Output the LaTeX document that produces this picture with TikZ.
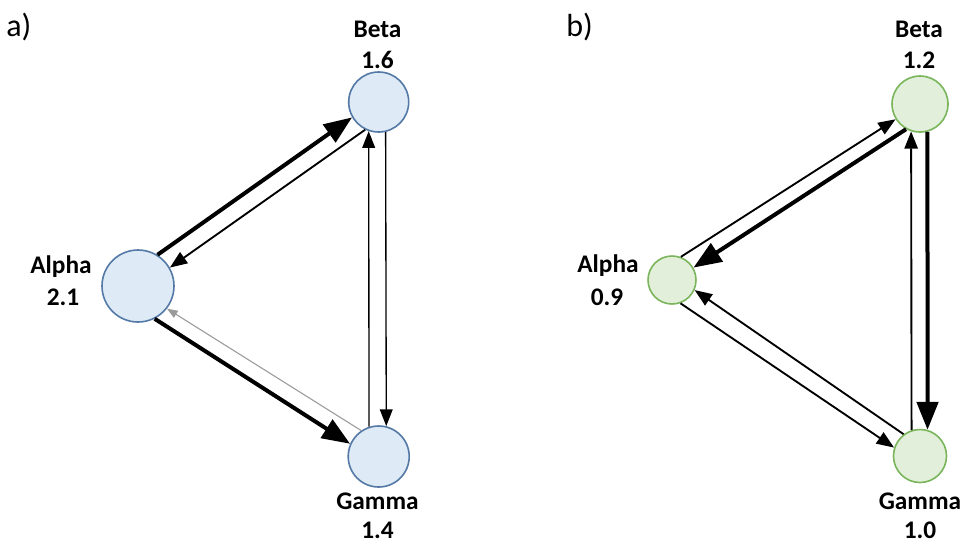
\documentclass[tikz,border=0pt]{standalone}
\usepackage{fontspec}
\setmainfont{Carlito}
\usetikzlibrary{arrows.meta}
\definecolor{bluefill}{HTML}{DEEAF6}
\definecolor{blueedge}{HTML}{5479A6}
\definecolor{greenfill}{HTML}{E2EFDA}
\definecolor{greenedge}{HTML}{7AB55C}
\definecolor{faintgray}{HTML}{9A9A9A}
\begin{document}
\begin{tikzpicture}[x=0.75pt,y=-0.75pt,
  lbl/.style={font=\fontsize{19}{21}\selectfont\bfseries, anchor=base, inner sep=0pt},
  panel/.style={font=\fontsize{24}{26}\selectfont, anchor=base west, inner sep=0pt},
  bnode/.style={circle, draw=blueedge, fill=bluefill, line width=1.2pt, inner sep=0pt},
  gnode/.style={circle, draw=greenedge, fill=greenfill, line width=1.2pt, inner sep=0pt},
  heavy/.style={line width=3pt, -{Triangle[length=21pt,width=16pt]}},
  medium/.style={line width=1.4pt, -{Triangle[length=13pt,width=10pt]}},
  light/.style={line width=1pt, -{Triangle[length=12.5pt,width=9.5pt]}},
  faint/.style={line width=0.8pt, draw=faintgray, -{Triangle[length=8pt,width=6pt]}, faintgray}
]
\fill[white] (0,0) rectangle (969,544);
\useasboundingbox (0,0) rectangle (969,544);

% ---------- panel a ----------
\node[panel] (pa) at (6,36) {a)};
\node[bnode, minimum size=54pt] (Aa) at (138,286) {};
\node[bnode, minimum size=45pt] (Ba) at (378.7,102) {};
\node[bnode, minimum size=45.75pt] (Ga) at (378.7,456.5) {};

\node[lbl] (Lba) at (377.5,37) {Beta};
\node[lbl] (Nba) at (377.5,68) {1.6};
\node[lbl] (Laa) at (61,273) {Alpha};
\node[lbl] (Naa) at (63,305) {2.1};
\node[lbl] (Lga) at (377.5,509) {Gamma};
\node[lbl] (Nga) at (377.5,538.5) {1.4};

\draw[heavy] (Aa.58) -- (Ba.210);
\draw[medium] (Ba.244) -- (Aa.30);
\draw[heavy] (Aa.297) -- (Ga.156);
\draw[faint] (Ga.124) -- (Aa.322);
\draw[light] (Ga.108.5) -- (Ba.251.1);
\draw[light] (Ba.283.5) -- (Ga.76.7);

% ---------- panel b ----------
\node[panel] (pb) at (566,36) {b)};
\node[gnode, minimum size=36pt] (Ab) at (672,280) {};
\node[gnode, minimum size=42pt] (Bb) at (920,104) {};
\node[gnode, minimum size=39.75pt] (Gb) at (920,456) {};

\node[lbl] (Lbb) at (919,37) {Beta};
\node[lbl] (Nbb) at (919,68) {1.2};
\node[lbl] (Lab) at (608,272) {Alpha};
\node[lbl] (Nab) at (607,305) {0.9};
\node[lbl] (Lgb) at (920,509) {Gamma};
\node[lbl] (Ngb) at (920,538.5) {1.0};

\draw[medium] (Ab.69) -- (Bb.212);
\draw[heavy] (Bb.241) -- (Ab.30);
\draw[medium] (Ab.290) -- (Gb.162);
\draw[medium] (Gb.127) -- (Ab.336);
\draw[medium] (Gb.108.3) -- (Bb.252.8);
\draw[heavy] (Bb.285.1) -- (Gb.74);
\end{tikzpicture}
\end{document}
